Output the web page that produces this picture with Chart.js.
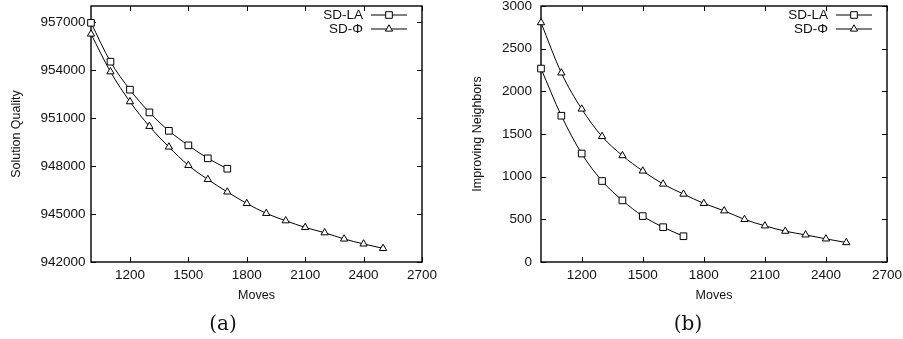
<!DOCTYPE html>
<html>
<head>
<meta charset="utf-8">
<script src="https://cdn.jsdelivr.net/npm/chart.js@4.4.0/dist/chart.umd.min.js"></script>
<style>
  html, body { margin: 0; padding: 0; background: #fff; }
  #wrap { position: relative; width: 903px; height: 339px; overflow: hidden; }
  .panel { position: absolute; top: 0; height: 339px; }
  .caption { position: absolute; top: 311px; width: 60px; text-align: center;
             font-family: "DejaVu Serif", serif; font-size: 20px; line-height: 24px; color: #111; }
</style>
</head>
<body>
<div id="wrap">
  <div class="panel" style="left:0;width:450px"><canvas id="chartA"></canvas></div>
  <div class="panel" style="left:450px;width:453px"><canvas id="chartB"></canvas></div>
  <div class="caption" style="left:193px">(a)</div>
  <div class="caption" style="left:658px">(b)</div>
</div>
<script>
// moves (x values) of each series
var movesLA = [1000, 1100, 1200, 1300, 1400, 1500, 1600, 1700];
var movesPhi = [1000, 1100, 1200, 1300, 1400, 1500, 1600, 1700, 1800, 1900, 2000, 2100, 2200, 2300, 2400, 2500];

// (a) solution quality
var qualityLA = [956950, 954520, 952770, 951350, 950200, 949290, 948480, 947830];
var qualityPhi = [956250, 953890, 952020, 950480, 949190, 948040, 947160, 946380,
                  945660, 945040, 944580, 944160, 943830, 943440, 943130, 942850];

// (b) improving neighbors
var neighborsLA = [2267, 1714, 1271, 949, 722, 538, 408, 302];
var neighborsPhi = [2805, 2216, 1793, 1471, 1247, 1067, 914, 796,
                    687, 600, 499, 424, 361, 318, 271, 228];

// tick labels
var xTicks = [1200, 1500, 1800, 2100, 2400, 2700];
var yTicksA = [942000, 945000, 948000, 951000, 954000, 957000];
var yTicksB = [0, 500, 1000, 1500, 2000, 2500, 3000];

var seriesNames = ['SD-LA', 'SD-\u03A6'];

var tickFont = { family: '"Liberation Sans", Arial, sans-serif', size: 13.5 };
var titleFont = { family: '"Liberation Sans", Arial, sans-serif', size: 12.5 };
var ink = '#111';

function pairUp(xs, ys) {
    return xs.map(function(x, i) { return { x: x, y: ys[i] }; });
}

// frame with inward ticks on all four sides, plus a gnuplot style key
var frameAndKey = {
    id: 'frameAndKey',
    beforeDatasetsDraw: function(chart) {
        var ctx = chart.ctx, a = chart.chartArea;
        var xs = chart.scales.x, ys = chart.scales.y;
        ctx.save();
        ctx.strokeStyle = '#000';
        ctx.lineWidth = 1;
        ctx.beginPath();
        xs.ticks.forEach(function(t) {
            var px = Math.round(xs.getPixelForValue(t.value)) + 0.5;
            ctx.moveTo(px, a.bottom); ctx.lineTo(px, a.bottom - 5);
            ctx.moveTo(px, a.top); ctx.lineTo(px, a.top + 5);
        });
        ys.ticks.forEach(function(t) {
            var py = Math.round(ys.getPixelForValue(t.value)) + 0.5;
            ctx.moveTo(a.left, py); ctx.lineTo(a.left + 5, py);
            ctx.moveTo(a.right, py); ctx.lineTo(a.right - 5, py);
        });
        ctx.stroke();
        ctx.lineWidth = 1.4;
        ctx.strokeRect(a.left, a.top, a.right - a.left, a.bottom - a.top);
        ctx.restore();
    },
    afterDraw: function(chart) {
        var ctx = chart.ctx, a = chart.chartArea;
        ctx.save();
        ctx.font = '13.5px "Liberation Sans", Arial, sans-serif';
        ctx.textAlign = 'right';
        ctx.textBaseline = 'middle';
        chart.data.datasets.forEach(function(ds, i) {
            var y = a.top + 9 + i * 14;
            var mx = a.right - 33;
            ctx.fillStyle = ink;
            ctx.fillText(ds.label, a.right - 59, y);
            ctx.strokeStyle = '#000';
            ctx.lineWidth = 1;
            ctx.beginPath();
            ctx.moveTo(a.right - 51, y); ctx.lineTo(a.right - 15, y);
            ctx.stroke();
            ctx.beginPath();
            if (ds.pointStyle === 'rect') {
                ctx.rect(mx - 3.3, y - 3.3, 6.6, 6.6);
            } else {
                ctx.moveTo(mx, y - 4.2);
                ctx.lineTo(mx + 3.6, y + 2.1);
                ctx.lineTo(mx - 3.6, y + 2.1);
                ctx.closePath();
            }
            ctx.fillStyle = '#fff';
            ctx.fill();
            ctx.stroke();
        });
        ctx.restore();
    }
};

function makeChart(id, dataLA, dataPhi, yMin, yMax, yTicks, yTitle, rightPad, yTitlePad, yTickPad) {
    var ctx = document.getElementById(id).getContext('2d');
    return new Chart(ctx, {
        type: 'line',
        data: {
            datasets: [{
                label: seriesNames[0],
                data: pairUp(movesLA, dataLA),
                pointStyle: 'rect',
                pointRadius: 4.7
            }, {
                label: seriesNames[1],
                data: pairUp(movesPhi, dataPhi),
                pointStyle: 'triangle',
                pointRadius: 4.2
            }].map(function(ds) {
                ds.borderColor = '#000';
                ds.borderWidth = 1;
                ds.pointBorderColor = '#000';
                ds.pointBackgroundColor = '#fff';
                ds.pointBorderWidth = 1;
                ds.cubicInterpolationMode = 'monotone';
                ds.clip = false;
                return ds;
            })
        },
        options: {
            responsive: true,
            maintainAspectRatio: false,
            animation: false,
            layout: { padding: { top: 6, right: rightPad, bottom: 30, left: 0 } },
            plugins: { legend: { display: false }, tooltip: { enabled: false } },
            scales: {
                x: {
                    type: 'linear',
                    min: 1000,
                    max: 2700,
                    afterBuildTicks: function(s) { s.ticks = xTicks.map(function(v) { return { value: v }; }); },
                    afterFit: function(s) { s.height = 47; s.paddingLeft = 0; s.paddingRight = 0; },
                    grid: { display: false, drawTicks: false },
                    border: { display: false },
                    ticks: { font: tickFont, color: ink, padding: 5, maxRotation: 0, autoSkip: false,
                             callback: function(v) { return String(v); } },
                    title: { display: true, text: 'Moves', font: titleFont, color: ink,
                             padding: { top: 0, bottom: 6 } }
                },
                y: {
                    type: 'linear',
                    min: yMin,
                    max: yMax,
                    afterBuildTicks: function(s) { s.ticks = yTicks.map(function(v) { return { value: v }; }); },
                    afterFit: function(s) { s.width = 91; s.paddingTop = 0; s.paddingBottom = 0; },
                    grid: { display: false, drawTicks: false },
                    border: { display: false },
                    ticks: { font: tickFont, color: ink, padding: yTickPad, autoSkip: false,
                             callback: function(v) { return String(v); } },
                    title: { display: true, text: yTitle, font: titleFont, color: ink,
                             padding: { top: yTitlePad, bottom: 0 } }
                }
            }
        },
        plugins: [frameAndKey]
    });
}

makeChart('chartA', qualityLA, qualityPhi, 942000, 958000, yTicksA, 'Solution Quality', 28, 9.5, 5.5);
makeChart('chartB', neighborsLA, neighborsPhi, 0, 3000, yTicksB, 'Improving Neighbors', 16, 20.5, 9);
</script>
</body>
</html>
